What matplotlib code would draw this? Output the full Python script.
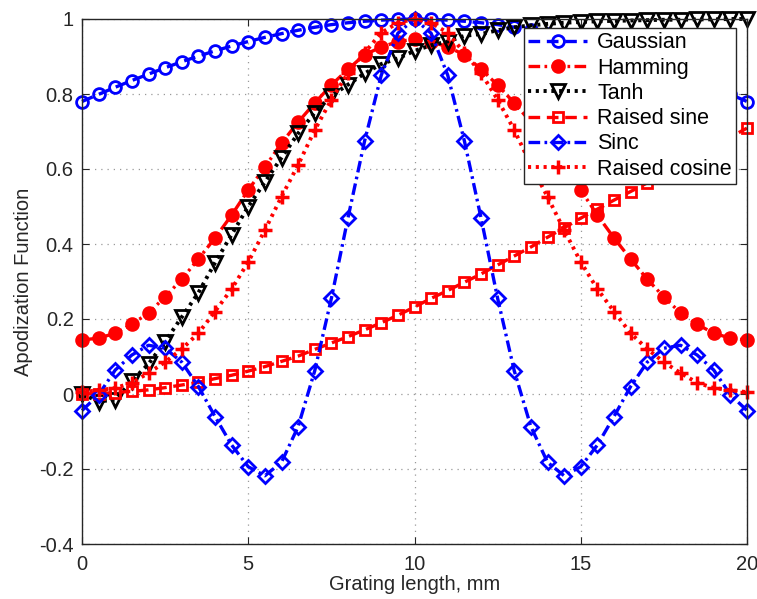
import matplotlib
matplotlib.use("Agg")
import matplotlib.pyplot as plt
import numpy as np

x = [i * 0.5 for i in range(41)]

gaussian_half = [0.780, 0.799, 0.818, 0.836, 0.853, 0.870, 0.886, 0.901, 0.915, 0.928,
                 0.940, 0.951, 0.961, 0.970, 0.978, 0.985, 0.990, 0.994, 0.997, 0.999, 1.000]
gaussian = gaussian_half + gaussian_half[-2::-1]

hamming_half = [0.144, 0.149, 0.162, 0.186, 0.216, 0.259, 0.306, 0.360, 0.416, 0.477,
                0.544, 0.605, 0.669, 0.725, 0.776, 0.824, 0.866, 0.905, 0.925, 0.940, 0.946]
hamming = hamming_half + hamming_half[-2::-1]

tanh = [0.000, -0.020, -0.015, 0.035, 0.080, 0.140, 0.205, 0.270, 0.350, 0.425,
        0.500, 0.565, 0.630, 0.695, 0.750, 0.795, 0.825, 0.855, 0.880, 0.895,
        0.915, 0.930, 0.940, 0.955, 0.960, 0.970, 0.978, 0.983, 0.987, 0.990,
        0.992, 0.994, 0.995, 0.996, 0.997, 0.998, 0.998, 0.999, 0.999, 1.000, 1.000]

raised_sine = [0.000, 0.001, 0.004, 0.007, 0.011, 0.017, 0.024, 0.031, 0.041, 0.050,
               0.061, 0.073, 0.087, 0.101, 0.119, 0.136, 0.153, 0.171, 0.190, 0.210,
               0.232, 0.255, 0.276, 0.298, 0.320, 0.344, 0.368, 0.392, 0.418, 0.443,
               0.469, 0.493, 0.517, 0.540, 0.563, 0.588, 0.613, 0.637, 0.661, 0.685, 0.709]

sinc_half = [-0.044, -0.002, 0.064, 0.104, 0.130, 0.122, 0.085, 0.020, -0.060, -0.136,
             -0.194, -0.218, -0.182, -0.087, 0.062, 0.255, 0.470, 0.675, 0.850, 0.962, 1.000]
sinc = sinc_half + sinc_half[-2::-1]

rcos_half = [0.005, 0.010, 0.016, 0.030, 0.056, 0.085, 0.120, 0.162, 0.220, 0.280,
             0.352, 0.437, 0.526, 0.611, 0.704, 0.785, 0.856, 0.910, 0.963, 0.990, 1.000]
raised_cosine = rcos_half + rcos_half[-2::-1]

labels = ["Gaussian", "Hamming", "Tanh", "Raised sine", "Sinc", "Raised cosine"]

plt.rcParams['font.family'] = ['Liberation Sans', 'DejaVu Sans']
plt.rcParams['axes.unicode_minus'] = False

fig = plt.figure(figsize=(7.57, 5.99), dpi=100)
ax = fig.add_axes([82/757, 1-544/599, 665/757, 525/599])

BLUE = (0, 0, 1)
RED = (1, 0, 0)
lw = 2.4
mew = 2.0

ax.plot(x, gaussian, linestyle=(0, (3.5, 2)), color=BLUE, lw=lw, marker='o', ms=8.5,
        mfc='none', mec=BLUE, mew=mew, label=labels[0], clip_on=False)
ax.plot(x, hamming, linestyle=(0, (3.5, 1.3, 0.8, 1.3)), color=RED, lw=lw, marker='o', ms=8.5,
        mfc=RED, mec=RED, mew=mew, label=labels[1], clip_on=False)
ax.plot(x, tanh, linestyle=(0, (0.8, 1.2)), color='black', lw=lw + 0.4, marker='v', ms=10,
        mfc='none', mec='black', mew=mew, label=labels[2], clip_on=False)
ax.plot(x, raised_sine, linestyle=(0, (3.5, 2)), color=RED, lw=lw, marker='s', ms=7.5,
        mfc='none', mec=RED, mew=mew, label=labels[3], clip_on=False)
ax.plot(x, sinc, linestyle=(0, (3.5, 1.3, 0.8, 1.3)), color=BLUE, lw=lw, marker='D', ms=7,
        mfc='none', mec=BLUE, mew=mew, label=labels[4], clip_on=False)
ax.plot(x, raised_cosine, linestyle=(0, (0.8, 1.2)), color=RED, lw=lw + 0.4, marker='+', ms=10,
        mfc='none', mec=RED, mew=mew + 0.5, label=labels[5], clip_on=False)

ax.set_xlim(0, 20)
ax.set_ylim(-0.4, 1.0)
xt = [0, 5, 10, 15, 20]
yt = [-0.4, -0.2, 0, 0.2, 0.4, 0.6, 0.8, 1.0]
ax.set_xticks(xt)
ax.set_xticklabels(["0", "5", "10", "15", "20"])
ax.set_yticks(yt)
ax.set_yticklabels(["-0.4", "-0.2", "0", "0.2", "0.4", "0.6", "0.8", "1"])
ax.tick_params(direction='in', top=True, right=True, labelsize=14.5, length=5,
               width=0.8, colors='#262626')
ax.tick_params(axis='x', pad=8)
ax.tick_params(axis='y', pad=6)
for s in ax.spines.values():
    s.set_color('#262626')
    s.set_linewidth(1.0)
ax.grid(True, linestyle=(0, (1, 4)), color='#999999', linewidth=0.9)
ax.set_axisbelow(True)

ax.set_xlabel("Grating length, mm", fontsize=14.5, color='#262626', labelpad=1)
ax.set_ylabel("Apodization Function", fontsize=14.5, color='#262626', labelpad=4.5)

leg = ax.legend(loc='upper right', bbox_to_anchor=(0.9835, 0.983), numpoints=1,
                fontsize=15.5, handlelength=2.75, handletextpad=0.45, labelspacing=0.2,
                borderpad=0.2, borderaxespad=0, fancybox=False, framealpha=1,
                edgecolor='#262626')
leg.get_frame().set_linewidth(1.0)

fig.savefig("out.png", dpi=100)
